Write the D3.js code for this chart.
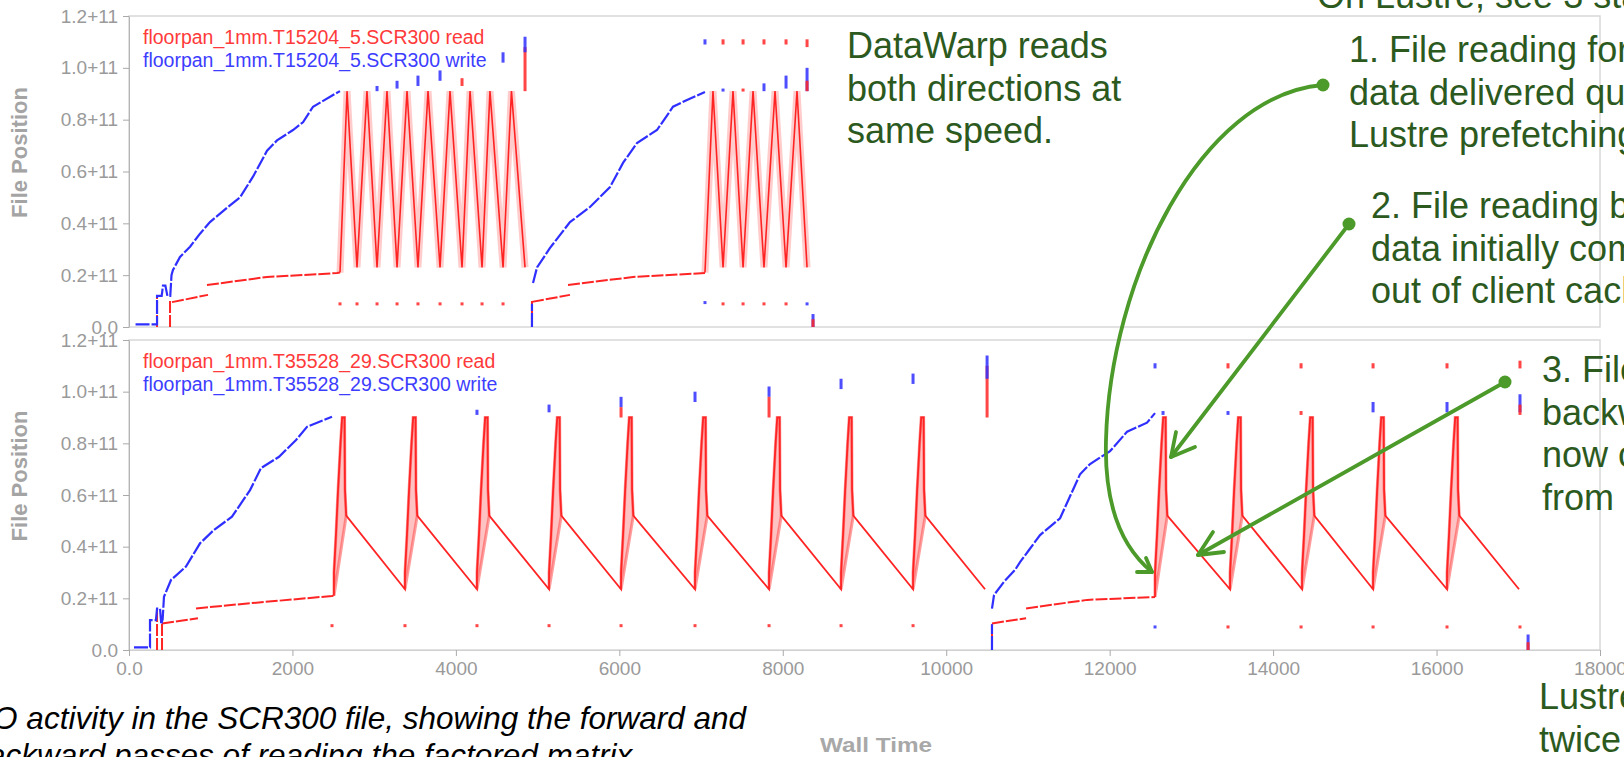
<!DOCTYPE html>
<html lang="en">
<head>
<meta charset="UTF-8" />
<title>SCR300 file I/O - DataWarp vs Lustre</title>
<script src="https://d3js.org/d3.v7.min.js"></script>
<style>
    * { margin: 0; padding: 0; box-sizing: border-box; }
    body { background: #fff; overflow: hidden; }
    svg { display: block; font-family: "Liberation Sans", Arial, sans-serif; }
    .tick text { fill: #9a9a9a; font-size: 19px; font-family: "Liberation Sans", Arial, sans-serif; }
    .tick line { stroke: #aaa; }
    .note { fill: #2c5a1e; font-size: 36px; }
    .arrow { fill: none; stroke: #4c9a2a; stroke-width: 3.8; stroke-linecap: round; stroke-linejoin: round; }
</style>
</head>
<body>
<svg width="1624" height="757"></svg>
<script>
// wall time in seconds, file position in units of 1e11 bytes
var xTicks = [0, 2000, 4000, 6000, 8000, 10000, 12000, 14000, 16000, 18000];
var yTicks = [0, 0.2, 0.4, 0.6, 0.8, 1.0, 1.2];

// ---- top panel: floorpan_1mm.T15204_5 (DataWarp) ----
var topWrite = [
    [[80,0.01],[330,0.01],[343,0.01],[343,0.12],[400,0.12],[416,0.16],[445,0.16],[470,0.12],[505,0.12],[520,0.20],[538,0.22],[624,0.27],[747,0.31],[869,0.36],[991,0.405],[1199,0.46],[1358,0.50],[1517,0.58],[1689,0.68],[1811,0.72],[2007,0.76],[2129,0.79],[2252,0.85],[2497,0.895],[2582,0.91]],
    [[4931,0.0],[4931,0.09]],
    [[4944,0.17],[4993,0.23],[5152,0.305],[5396,0.405],[5641,0.463],[5886,0.54],[6045,0.633],[6216,0.71],[6461,0.76],[6657,0.85],[6828,0.876],[7048,0.907]]
];
var topRead = [
    [[343,0],[343,0.12]],
    [[502,0],[502,0.10]],
    [[526,0.096],[967,0.124]],
    [[954,0.162],[1689,0.193],[2545,0.208],[2582,0.21]],
    [[4931,0],[4931,0.10]],
    [[4931,0.097],[5396,0.124]],
    [[5372,0.162],[6167,0.193],[7048,0.208]]
];
// forward / backward passes, peak and trough points
var topPasses = [
    [[2582,0.21],[2668,0.91],[2790,0.23],[2912,0.91],[3035,0.23],[3157,0.91],[3280,0.23],[3402,0.91],[3536,0.23],[3659,0.91],[3806,0.23],[3928,0.91],[4075,0.23],[4173,0.91],[4320,0.23],[4417,0.91],[4577,0.23],[4680,0.91],[4846,0.23]],
    [[7048,0.21],[7146,0.91],[7269,0.23],[7391,0.91],[7514,0.23],[7636,0.91],[7770,0.23],[7905,0.91],[8040,0.23],[8174,0.91],[8297,0.23]]
];
// isolated small accesses: [time, from, to, series]
var topMarks = [
    [2582,0.09,0.095,"r"],[2790,0.09,0.095,"r"],[3035,0.09,0.095,"r"],[3280,0.09,0.095,"r"],[3536,0.09,0.095,"r"],[3806,0.09,0.095,"r"],[4075,0.09,0.095,"r"],[4320,0.09,0.095,"r"],[4577,0.09,0.095,"r"],
    [3035,0.91,0.93,"w"],[3280,0.92,0.95,"w"],[3536,0.93,0.97,"w"],[3806,0.95,0.99,"w"],[4075,0.93,0.96,"r"],[4577,1.02,1.06,"w"],
    [4846,0.91,1.08,"r"],[4846,1.06,1.12,"w"],
    [7048,1.09,1.11,"w"],[7269,1.09,1.11,"r"],[7514,1.09,1.11,"r"],[7770,1.09,1.11,"r"],[8040,1.09,1.11,"r"],[8297,1.08,1.11,"r"],
    [7269,0.91,0.92,"w"],[7514,0.91,0.92,"r"],[7770,0.91,0.94,"w"],[8040,0.92,0.97,"w"],[8297,0.91,1.0,"w"],[8297,0.91,0.95,"r"],
    [7048,0.09,0.10,"w"],[7269,0.09,0.095,"r"],[7514,0.09,0.095,"r"],[7770,0.09,0.095,"r"],[8040,0.09,0.095,"r"],[8297,0.09,0.095,"w"],
    [8370,0.0,0.05,"w"],[8370,0.0,0.03,"r"]
];

// ---- bottom panel: floorpan_1mm.T35528_29 (Lustre) ----
var botWrite = [
    [[61,0.01],[240,0.01],[257,0.01],[257,0.116],[330,0.116],[343,0.16],[380,0.16],[395,0.10],[412,0.12],[428,0.206],[514,0.271],[697,0.323],[869,0.413],[1040,0.465],[1260,0.516],[1481,0.619],[1615,0.704],[1836,0.748],[2044,0.813],[2178,0.864],[2484,0.903]],
    [[10560,0.0],[10560,0.10]],
    [[10560,0.16],[10585,0.213],[10707,0.264],[10842,0.31],[10903,0.34],[11013,0.387],[11148,0.445],[11393,0.51],[11637,0.68],[11760,0.72],[12005,0.77],[12213,0.845],[12457,0.88],[12555,0.917]]
];
var botRead = [
    [[343,0],[343,0.16]],
    [[404,0],[404,0.116]],
    [[404,0.103],[844,0.123]],
    [[820,0.161],[1481,0.181],[2484,0.209],[2508,0.21]],
    [[10560,0],[10560,0.10]],
    [[10560,0.103],[10977,0.123]],
    [[10977,0.161],[11723,0.194],[12555,0.205]]
];
// each backward pass starts with a fast forward spike
var botPassStarts = [
    [2508, 3377, 4258, 5140, 6021, 6926, 7832, 8713, 9594],
    [12555, 13473, 14354, 15223, 16128]
];
var botPassEnds = [10475, 17009];
var passBase = [0.21, 0.205];
var spikeShape = [[0,0.30],[25,0.45],[50,0.62],[80,0.80],[100,0.90],[130,0.90],[135,0.62],[150,0.52]];
var troughLevel = 0.235;
var botMarks = [
    [2484,0.095,0.10,"r"],[3377,0.095,0.10,"r"],[4258,0.095,0.10,"r"],[5140,0.095,0.10,"r"],[6021,0.095,0.10,"r"],[6926,0.095,0.10,"r"],[7832,0.095,0.10,"r"],[8713,0.095,0.10,"r"],[9594,0.095,0.10,"r"],
    [4258,0.91,0.93,"w"],[5140,0.92,0.95,"w"],[6021,0.94,0.98,"w"],[6021,0.9,0.94,"r"],[6926,0.96,1.0,"w"],[7832,0.98,1.02,"w"],[7832,0.9,0.98,"r"],[8713,1.01,1.05,"w"],[9594,1.03,1.07,"w"],
    [10500,0.9,1.1,"r"],[10500,1.05,1.14,"w"],
    [12555,1.09,1.11,"w"],[13448,1.09,1.11,"r"],[14342,1.09,1.11,"r"],[15223,1.09,1.11,"r"],[16128,1.09,1.11,"r"],[17021,1.09,1.12,"r"],
    [12653,0.91,0.925,"w"],[13448,0.91,0.925,"w"],[14342,0.91,0.925,"r"],[15223,0.92,0.96,"w"],[16128,0.92,0.96,"w"],[17021,0.92,0.99,"w"],[17021,0.91,0.95,"r"],
    [12555,0.085,0.095,"w"],[13448,0.085,0.095,"r"],[14342,0.085,0.095,"r"],[15223,0.085,0.095,"r"],[16128,0.085,0.095,"r"],[17021,0.085,0.095,"r"],
    [17120,0.0,0.06,"w"],[17120,0.0,0.03,"r"]
];

var topLegend = ["floorpan_1mm.T15204_5.SCR300 read", "floorpan_1mm.T15204_5.SCR300 write"];
var botLegend = ["floorpan_1mm.T35528_29.SCR300 read", "floorpan_1mm.T35528_29.SCR300 write"];

var readColor = "#ff2424";
var writeColor = "#2f2fff";

var svg = d3.select("svg");

var xScale = d3.scaleLinear().domain([0, 18000]).range([129, 1600]);
var topY = d3.scaleLinear().domain([0, 1.2]).range([327, 16]);
var botY = d3.scaleLinear().domain([0, 1.2]).range([650, 340]);

var yFormat = function(d) { return d === 0 ? "0.0" : d.toFixed(1) + "+11"; };

function drawPanel(yScale, write, read, marks, legend, showX) {
    var g = svg.append("g");

    // plot frame
    g.append("rect")
        .attr("x", xScale(0)).attr("y", yScale(1.2))
        .attr("width", xScale(18000) - xScale(0))
        .attr("height", yScale(0) - yScale(1.2))
        .attr("fill", "none").attr("stroke", "#d8d8d8").attr("stroke-width", 1.5);

    var yAxis = g.append("g")
        .attr("transform", "translate(" + xScale(0) + ",0)")
        .call(d3.axisLeft(yScale).tickValues(yTicks).tickFormat(yFormat).tickSize(6).tickSizeOuter(0));
    yAxis.select(".domain").attr("stroke", "#b4b4b4");
    yAxis.selectAll(".tick text").attr("x", -11);

    if (showX) {
        var xAxis = g.append("g")
            .attr("transform", "translate(0," + yScale(0) + ")")
            .call(d3.axisBottom(xScale).tickValues(xTicks)
                .tickFormat(function(d) { return d === 0 ? "0.0" : d; })
                .tickSize(6).tickSizeOuter(0));
        xAxis.select(".domain").attr("stroke", "#d0d0d0");
        xAxis.selectAll(".tick text").attr("y", 12);
    }

    var line = d3.line()
        .x(function(d) { return xScale(d[0]); })
        .y(function(d) { return yScale(d[1]); });

    // slow forward reads
    g.selectAll(".read").data(read).enter().append("path")
        .attr("d", line).attr("fill", "none")
        .attr("stroke", readColor).attr("stroke-width", 2)
        .attr("stroke-dasharray", "12 2");

    // writes
    g.selectAll(".write").data(write).enter().append("path")
        .attr("d", line).attr("fill", "none")
        .attr("stroke", writeColor).attr("stroke-width", 2.2)
        .attr("stroke-dasharray", "14 2");

    // small isolated accesses
    g.selectAll(".mark").data(marks).enter().append("rect")
        .attr("x", function(d) { return xScale(d[0]) - 1.5; })
        .attr("y", function(d) { return yScale(d[2]); })
        .attr("width", 3)
        .attr("height", function(d) { return Math.max(3, yScale(d[1]) - yScale(d[2])); })
        .attr("fill", function(d) { return d[3] === "r" ? readColor : writeColor; })
        .attr("opacity", 0.85);

    // legend
    g.selectAll(".legend").data(legend).enter().append("text")
        .attr("x", 143)
        .attr("y", function(d, i) { return yScale(1.2) + 28 + i * 23; })
        .attr("font-size", "19.5px")
        .attr("fill", function(d, i) { return i === 0 ? "#ff3a3a" : "#3d3dff"; })
        .text(function(d) { return d; });

    g.append("text")
        .attr("transform", "rotate(-90)")
        .attr("x", -(yScale(0.6) - 19))
        .attr("y", 27)
        .attr("text-anchor", "middle")
        .attr("font-size", "22px").attr("font-weight", "bold")
        .attr("fill", "#a4a4a4")
        .text("File Position");

    return { g: g, line: line };
}

var topPanel = drawPanel(topY, topWrite, topRead, topMarks, topLegend, false);
var botPanel = drawPanel(botY, botWrite, botRead, botMarks, botLegend, true);

// top: DataWarp, symmetric passes
topPanel.g.selectAll(".pass-halo").data(topPasses).enter().append("path")
    .attr("d", topPanel.line).attr("fill", "none")
    .attr("stroke", "rgba(255,70,70,0.28)").attr("stroke-width", 7);
topPanel.g.selectAll(".pass").data(topPasses).enter().append("path")
    .attr("d", topPanel.line).attr("fill", "none")
    .attr("stroke", readColor).attr("stroke-width", 1.6);

// bottom: Lustre, fast spike then slow backward read
var sawtooth = botPassStarts.map(function(starts, k) {
    var pts = [];
    starts.forEach(function(s, i) {
        pts.push([s, i === 0 ? passBase[k] : troughLevel]);
        spikeShape.forEach(function(p) { pts.push([s + p[0], p[1]]); });
    });
    pts.push([botPassEnds[k], troughLevel]);
    return pts;
});
var spikes = [];
botPassStarts.forEach(function(starts, k) {
    starts.forEach(function(s, i) {
        var pts = [[s, i === 0 ? passBase[k] : troughLevel]];
        spikeShape.forEach(function(p) { pts.push([s + p[0], p[1]]); });
        spikes.push(pts);
    });
});
botPanel.g.selectAll(".spike").data(spikes).enter().append("path")
    .attr("d", function(d) { return botPanel.line(d) + "Z"; })
    .attr("fill", "rgba(255,120,120,0.45)")
    .attr("stroke", "rgba(255,60,60,0.5)").attr("stroke-width", 3);
botPanel.g.selectAll(".saw").data(sawtooth).enter().append("path")
    .attr("d", botPanel.line).attr("fill", "none")
    .attr("stroke", readColor).attr("stroke-width", 1.8);

// x axis title
svg.append("text")
    .attr("x", 876).attr("y", 752)
    .attr("text-anchor", "middle")
    .attr("font-size", "21px").attr("font-weight", "bold")
    .attr("fill", "#a8a8a8")
    .attr("textLength", 112).attr("lengthAdjust", "spacingAndGlyphs")
    .text("Wall Time");

// caption (cut by the left edge)
svg.append("text")
    .attr("text-anchor", "end")
    .attr("font-size", "31.5px").attr("font-style", "italic").attr("fill", "#000")
    .selectAll("tspan")
    .data([["I/O activity in the SCR300 file, showing the forward and", 746, 729],
           ["backward passes of reading the factored matrix.", 641, 766]])
    .enter().append("tspan")
    .attr("x", function(d) { return d[1]; })
    .attr("y", function(d) { return d[2]; })
    .text(function(d) { return d[0]; });

// green notes
var notes = [
    { x: 1317, y: 8, lines: ["On Lustre, see 3 stages:"] },
    { x: 847, y: 58, lines: ["DataWarp reads", "both directions at", "same speed."] },
    { x: 1349, y: 62, lines: ["1. File reading forward:", "data delivered quickly by", "Lustre prefetching."] },
    { x: 1371, y: 218, lines: ["2. File reading backward:", "data initially comes from", "out of client cache."] },
    { x: 1542, y: 382, lines: ["3. File reading", "backwards,", "now comes", "from Lustre."] },
    { x: 1539, y: 709, lines: ["Lustre reads back", "twice as slowly."] }
];
notes.forEach(function(n) {
    var t = svg.append("text").attr("class", "note");
    n.lines.forEach(function(l, i) {
        t.append("tspan").attr("x", n.x).attr("y", n.y + i * 42.5).text(l);
    });
});

// arrows
var arrows = [
    { dot: [1323, 85], path: "M1323,85 C1200,95 1110,280 1106,440 C1104,510 1125,550 1152,572", head: "M1137,572 L1152,572 L1146,558" },
    { dot: [1349, 224], path: "M1349,224 L1171,457", head: "M1195,447 L1171,457 L1176,432" },
    { dot: [1505, 382], path: "M1505,382 L1198,555", head: "M1224,552 L1198,555 L1213,532" }
];
arrows.forEach(function(a) {
    svg.append("path").attr("class", "arrow").attr("d", a.path);
    svg.append("path").attr("class", "arrow").attr("d", a.head);
    svg.append("circle").attr("cx", a.dot[0]).attr("cy", a.dot[1]).attr("r", 6.5).attr("fill", "#4c9a2a");
});
</script>
</body>
</html>
